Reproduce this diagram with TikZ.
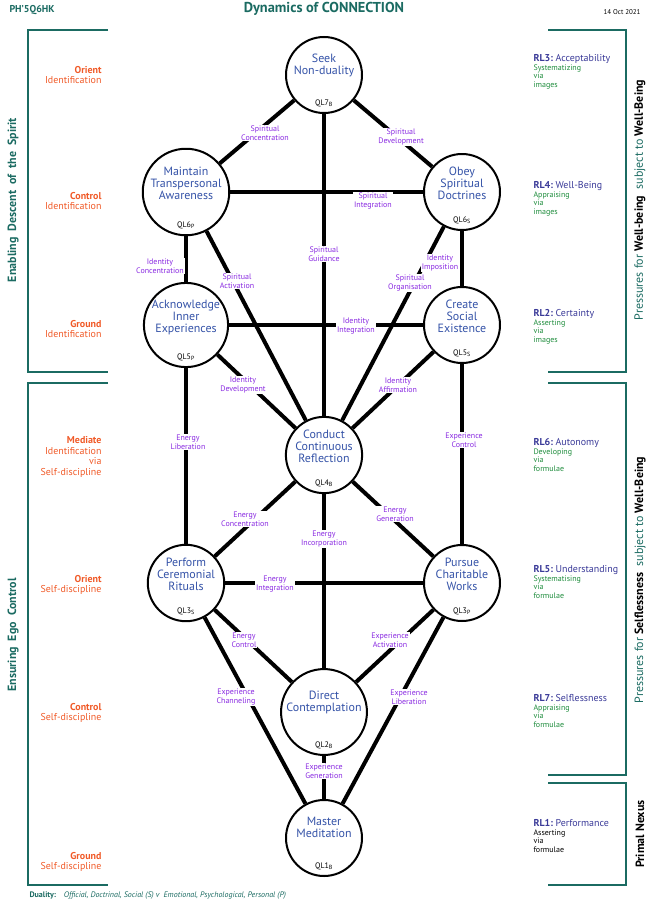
\documentclass[tikz,border=0pt]{standalone}
\usepackage{fontspec}
\setmainfont{PT Sans}
\usetikzlibrary{positioning,backgrounds}
\definecolor{teal}{HTML}{1B6B62}
\definecolor{orng}{HTML}{F05A28}
\definecolor{qblue}{HTML}{3553A8}
\definecolor{purp}{HTML}{8A2BE2}
\definecolor{grn}{HTML}{1E8C3C}
\definecolor{rlblue}{HTML}{3A3A98}
\tikzset{
  QL/.style={circle,draw,line width=2bp,fill=white,minimum size=76bp,inner sep=0pt,
    align=center,text=qblue,font=\large\linespread{0.85}\selectfont},
  link/.style={line width=4bp},
  elab/.style={text=purp,font=\footnotesize\linespread{0.9}\selectfont,align=center,inner sep=1pt,fill=white},
  lvl/.style={align=right,anchor=east,font=\normalsize\linespread{0.9}\selectfont,text=orng},
  rl/.style={align=left,anchor=north west,font=\footnotesize\linespread{0.9}\selectfont,text=grn},
  bracket/.style={teal,line width=1.5bp}
}
\newcommand{\qlname}[2]{\node[font=\footnotesize] at ([yshift=11bp]#1.south) {QL#2};}
\newcommand{\rlhead}[2]{\textcolor{rlblue}{\normalsize\textbf{#1:}\ #2}}
\begin{document}
\begin{tikzpicture}[x=1bp,y=-1bp]
\useasboundingbox (0,0) rectangle (650,907);

% Knoten
\node[QL] (q7)  at (324,75)  {Seek\\Non-duality\\[10bp]};
\node[QL] (q6p) at (186,192) {Maintain\\Transpersonal\\Awareness\\[6bp]};
\node[QL] (q6s) at (462,192) {Obey\\Spiritual\\Doctrines\\[6bp]};
\node[QL] (q5p) at (186,325) {Acknowledge\\Inner\\Experiences\\[6bp]};
\node[QL] (q5s) at (462,325) {Create\\Social\\Existence\\[6bp]};
\node[QL] (q4)  at (324,455) {Conduct\\Continuous\\Reflection\\[6bp]};
\node[QL] (q3s) at (186,583) {Perform\\Ceremonial\\Rituals\\[6bp]};
\node[QL] (q3p) at (462,583) {Pursue\\Charitable\\Works\\[6bp]};
\node[QL] (q2)  at (324,712) {Direct\\Contemplation\\[10bp]};
\node[QL] (q1)  at (324,838) {Master\\Meditation\\[10bp]};
\qlname{q7}{7$_\mathrm{B}$}  \qlname{q6p}{6$_\mathrm{P}$} \qlname{q6s}{6$_\mathrm{S}$}
\qlname{q5p}{5$_\mathrm{P}$} \qlname{q5s}{5$_\mathrm{S}$} \qlname{q4}{4$_\mathrm{B}$}
\qlname{q3s}{3$_\mathrm{S}$} \qlname{q3p}{3$_\mathrm{P}$} \qlname{q2}{2$_\mathrm{B}$}
\qlname{q1}{1$_\mathrm{B}$}

% Verbindungen
\begin{scope}[on background layer]
\foreach \a/\b in {q7/q6p,q7/q6s,q7/q4,q6p/q6s,q6p/q5p,q6s/q5s,q6p/q4,q6s/q4,
  q5p/q5s,q5p/q4,q5s/q4,q5p/q3s,q5s/q3p,q4/q3s,q4/q3p,q4/q2,q3s/q3p,
  q3s/q2,q3p/q2,q3s/q1,q3p/q1,q2/q1}
  \draw[link] (\a) -- (\b);
\end{scope}

% Kantenbeschriftungen
\node[elab] (l1)  at (265,133) {Spiritual\\Concentration};
\node[elab] (l2)  at (401,137) {Spiritual\\Development};
\node[elab] (l3)  at (373,201) {Spiritual\\Integration};
\node[elab] (l4)  at (324,254) {Spiritual\\Guidance};
\node[elab] (l5)  at (160,266) {Identity\\Concentration};
\node[elab] (l6)  at (237,281) {Spiritual\\Activation};
\node[elab] (l7)  at (410,283) {Spiritual\\Organisation};
\node[elab] (l8)  at (440,263) {Identity\\Imposition};
\node[elab] (l9)  at (356,326) {Identity\\Integration};
\node[elab] (l10) at (243,385) {Identity\\Development};
\node[elab] (l11) at (398,385) {Identity\\Affirmation};
\node[elab] (l12) at (188,442) {Energy\\Liberation};
\node[elab] (l13) at (464,440) {Experience\\Control};
\node[elab] (l14) at (245,519) {Energy\\Concentration};
\node[elab] (l15) at (395,514) {Energy\\Generation};
\node[elab] (l16) at (324,539) {Energy\\Incorporation};
\node[elab] (l17) at (275,584) {Energy\\Integration};
\node[elab] (l18) at (244,640) {Energy\\Control};
\node[elab] (l19) at (390,640) {Experience\\Activation};
\node[elab] (l20) at (236,697) {Experience\\Channeling};
\node[elab] (l21) at (409,697) {Experience\\Liberation};
\node[elab] (l22) at (324,771) {Experience\\Generation};

% Kopfzeile
\node[anchor=west,text=teal,font=\bfseries\normalsize] (code) at (6,10) {PH'5Q6HK};
\node[text=teal,font=\bfseries\Large] (title) at (324,9) {Dynamics of CONNECTION};
\node[anchor=east,font=\scriptsize] (date) at (644,12) {14 Oct 2021};
\node[anchor=west,text=teal,font=\footnotesize] (duality) at (26,896)
  {\textbf{Duality:}\quad\textit{Official, Doctrinal, Social (S) v\ \ Emotional, Psychological, Personal (P)}};

% Klammern links
\draw[bracket] (108,30) -| (28,372) -- (108,372);
\draw[bracket] (108,383) -| (28,885) -- (108,885);
\node[rotate=90,text=teal,font=\bfseries\large] (lb1) at (13,200) {Enabling\ \ Descent\ \ of\ \ the\ \ Spirit};
\node[rotate=90,text=teal,font=\bfseries\large] (lb2) at (13,635) {Ensuring\ \ Ego\ \ Control};

% Klammern rechts
\draw[bracket] (548,30) -| (626,372) -- (548,372);
\draw[bracket] (548,383) -| (626,775) -- (548,775);
\draw[bracket] (548,783) -| (626,885) -- (548,885);
\node[rotate=90,text=teal,font=\large] (rb1) at (640,200) {Pressures for \textbf{\textcolor{black}{Well-being}}\ \ subject to \textbf{\textcolor{black}{Well-Being}}};
\node[rotate=90,text=teal,font=\large] (rb2) at (640,580) {Pressures for \textbf{\textcolor{black}{Selflessness}}\ \ subject to \textbf{\textcolor{black}{Well-Being}}};
\node[rotate=90,font=\bfseries\large] (rb3) at (640,834) {Primal Nexus};

% Ebenen links
\node[lvl] (o1) at (105,75)  {\textbf{Orient}\\Identification};
\node[lvl] (c1) at (105,201) {\textbf{Control}\\Identification};
\node[lvl] (g1) at (105,329) {\textbf{Ground}\\Identification};
\node[lvl] (m)  at (105,457) {\textbf{Mediate}\\Identification\\via\\Self-discipline};
\node[lvl] (o2) at (105,585) {\textbf{Orient}\\Self-discipline};
\node[lvl] (c2) at (105,713) {\textbf{Control}\\Self-discipline};
\node[lvl] (g2) at (105,862) {\textbf{Ground}\\Self-discipline};

% Ebenen rechts
\node[rl] (rl3) at (530,51)  {\rlhead{RL3}{Acceptability}\\Systematizing\\via\\images};
\node[rl] (rl4) at (530,178) {\rlhead{RL4}{Well-Being}\\Appraising\\via\\images};
\node[rl] (rl2) at (530,306) {\rlhead{RL2}{Certainty}\\Asserting\\via\\images};
\node[rl] (rl6) at (530,435) {\rlhead{RL6}{Autonomy}\\Developing\\via\\formulae};
\node[rl] (rl5) at (530,562) {\rlhead{RL5}{Understanding}\\Systematising\\via\\formulae};
\node[rl] (rl7) at (530,691) {\rlhead{RL7}{Selflessness}\\Appraising\\via\\formulae};
\node[rl,text=black] (rl1) at (530,816) {\rlhead{RL1}{Performance}\\Asserting\\via\\formulae};
\end{tikzpicture}
\end{document}
